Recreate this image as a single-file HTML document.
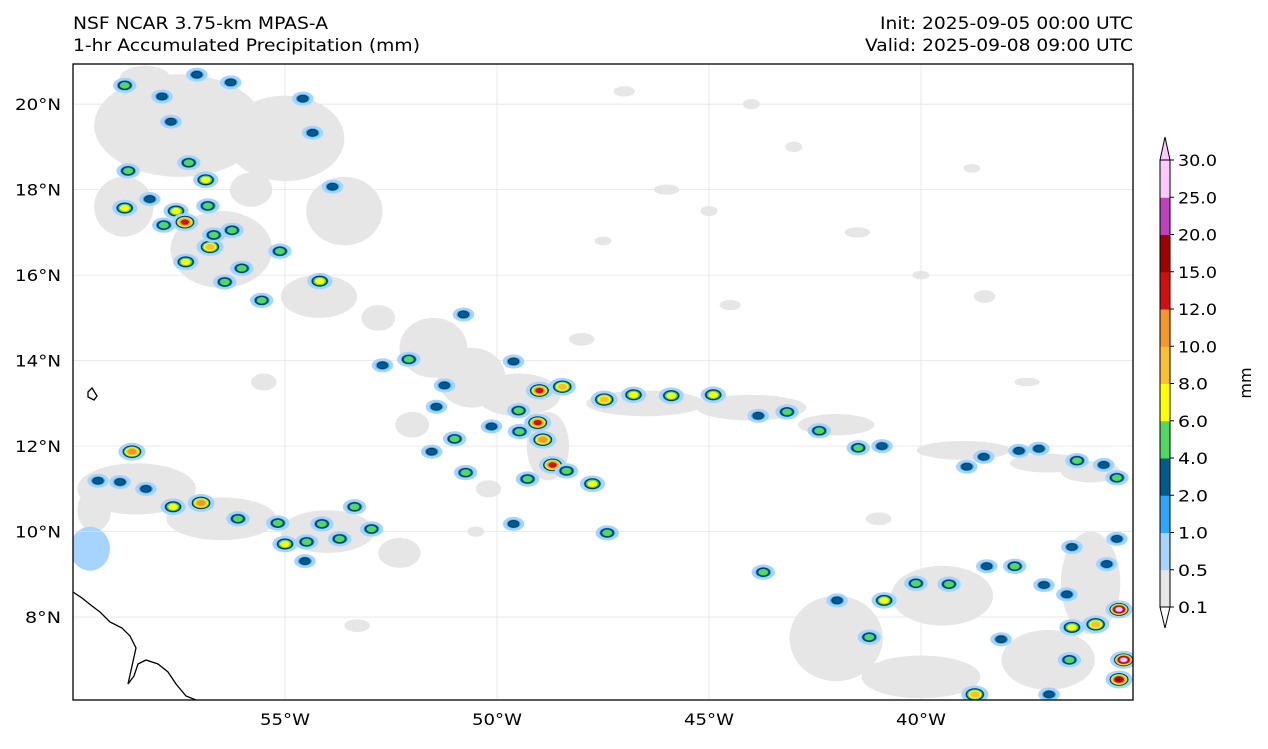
<!DOCTYPE html>
<html><head><meta charset="utf-8"><style>
body{margin:0;background:#fff;font-family:"DejaVu Sans","Liberation Sans",sans-serif;}
svg text{font-family:"DejaVu Sans","Liberation Sans",sans-serif;}
</style></head><body>
<svg id="chart" width="1268" height="745" viewBox="0 0 1268 745" xmlns="http://www.w3.org/2000/svg">
<text x="73" y="29" font-size="16.5" textLength="255" lengthAdjust="spacingAndGlyphs">NSF NCAR 3.75-km MPAS-A</text>
<text x="73" y="51" font-size="16.5" textLength="347" lengthAdjust="spacingAndGlyphs">1-hr Accumulated Precipitation (mm)</text>
<text x="880" y="29" font-size="16.5" textLength="253" lengthAdjust="spacingAndGlyphs">Init: 2025-09-05 00:00 UTC</text>
<text x="865" y="51" font-size="16.5" textLength="268" lengthAdjust="spacingAndGlyphs">Valid: 2025-09-08 09:00 UTC</text>
<defs><clipPath id="mapclip"><rect x="73" y="64" width="1060" height="636"/></clipPath></defs>
<g id="map" clip-path="url(#mapclip)"></g>
<rect x="73" y="64" width="1060" height="636" fill="none" stroke="#000" stroke-width="1.3"/>
<g id="axes"></g>
<g id="cbar"></g>
<text x="1251" y="383" font-size="16" text-anchor="middle" transform="rotate(-90 1251 383)">mm</text>
</svg>
<script>
const lonTicks=[-55,-50,-45,-40];
const latTicks=[8,10,12,14,16,18,20];
const levels=[0.1,0.5,1,2,4,6,8,10,12,15,20,25,30];
const levelColors=["#e6e6e6","#a6d4ff","#2ea6ff","#005a8c","#50d860","#ffff00","#ffbe32","#f59628","#d01010","#a00000","#c040c0","#ffc8ff"];
const cellLon=[-58.78,-57.08,-56.28,-54.58,-57.9,-54.35,-57.69,-58.7,-56.87,-57.27,-58.78,-57.57,-57.86,-57.36,-56.77,-56.68,-57.34,-56.42,-56.02,-54.18,-53.88,-55.55,-55.12,-56.82,-58.19,-56.25,
-52.08,-52.7,-50.79,-51.24,-51.43,-51.0,-50.13,-50.74,-49.61,-51.54,
-49.0,-48.46,-47.47,-46.78,-45.89,-44.9,-43.84,-43.16,-42.4,-41.48,-40.92,-38.92,-38.52,-37.69,-37.22,-36.32,-35.69,-35.38,
-49.49,-49.04,-48.92,-49.47,-48.69,-49.28,-48.36,-47.75,-47.4,-49.61,
-58.61,-59.41,-58.89,-57.64,-56.98,-56.11,-55.17,-55.0,-54.49,-54.13,-53.71,-53.36,-52.96,-54.53,-58.28,
-43.72,-41.98,-40.87,-40.12,-39.34,-38.45,-37.79,-36.44,-36.5,-35.88,-35.62,-35.38,-36.44,-37.1,-38.73,-35.33,-35.22,-35.33,-36.56,-41.22,-38.11,-36.98];
const cellLat=[20.44,20.69,20.51,20.13,20.18,19.33,19.59,18.44,18.23,18.63,17.57,17.5,17.17,17.24,16.66,16.94,16.31,15.84,16.16,15.86,18.07,15.41,16.56,17.62,17.78,17.05,
14.03,13.89,15.08,13.42,12.92,12.17,12.46,11.38,13.98,11.87,
13.3,13.39,13.09,13.2,13.18,13.2,12.71,12.8,12.36,11.96,12.0,11.52,11.75,11.89,11.94,11.66,11.56,11.26,
12.83,12.55,12.15,12.34,11.56,11.23,11.42,11.12,9.97,10.18,
11.87,11.19,11.16,10.58,10.67,10.3,10.2,9.71,9.76,10.18,9.83,10.58,10.06,9.31,11.0,
9.05,8.39,8.39,8.79,8.77,9.19,9.19,7.76,7.0,7.83,9.24,9.83,9.64,8.75,6.19,8.18,7.0,6.54,8.53,7.53,7.48,6.19];
const cellPeak=[5,4,4,3,3,4,3,5,7,5,7,8,6,14,9,5,7,6,5,7,4,5,5,5,4,5,
5,4,3,4,4,5,4,5,3,4,
13,9,10,8,7,7,4,5,5,5,4,4,4,4,4,5,4,5,
6,14,12,6,14,5,5,7,5,3,
12,4,4,7,12,6,5,7,5,5,6,5,5,4,3,
5,4,7,5,5,3,5,8,6,9,4,4,3,4,10,30,28,16,4,5,3,4];
const grayLon=[-57.5,-55,-53.6,-56.5,-54.2,-58.8,-51.5,-50.6,-49.5,-48.8,-46.5,-44,-42,-39,-37,-36,-58.5,-56.5,-54,-52.3,-59.5,-42,-39.5,-37,-36,-40,-46,-47.5,-44.5,-41.5,-38.8,-52,-44,-47,-40,-37.5,-50.5,-53.3,-58.3,-55.8,-52.8,-50.2,-48,-45,-43,-38.5,-41,-55.5];
const grayLat=[19.5,19.2,17.5,16.6,15.5,17.6,14.3,13.6,13.2,12,13,12.9,12.5,11.9,11.6,11.4,11,10.3,10,9.5,10.5,7.5,8.5,7,8.8,6.6,18,16.8,15.3,17,18.5,12.5,20,20.3,16,13.5,10,7.8,20.6,18,15,11,14.5,17.5,19,15.5,10.3,13.5];
const grayRx=[2.0,1.4,0.9,1.2,0.9,0.7,0.8,0.8,1.0,0.5,1.4,1.3,0.9,1.1,0.9,0.7,1.4,1.3,1.1,0.5,0.4,1.1,1.2,1.1,0.7,1.4,0.3,0.2,0.25,0.3,0.2,0.4,0.2,0.25,0.2,0.3,0.2,0.3,0.6,0.5,0.4,0.3,0.3,0.2,0.2,0.25,0.3,0.3];
const grayRy=[1.2,1.0,0.8,0.9,0.5,0.7,0.7,0.7,0.5,0.8,0.3,0.3,0.25,0.22,0.22,0.25,0.6,0.5,0.5,0.35,0.5,1.0,0.7,0.7,1.2,0.5,0.12,0.1,0.12,0.12,0.1,0.3,0.12,0.12,0.1,0.1,0.12,0.15,0.3,0.4,0.3,0.2,0.15,0.12,0.12,0.15,0.15,0.2];

const NS="http://www.w3.org/2000/svg";
const X0=73,X1=1133,Y0=64,Y1=700,LON0=-60,LON1=-35,LAT0=6.06,LAT1=20.94;
function xs(lon){return X0+(lon-LON0)/(LON1-LON0)*(X1-X0);}
function ys(lat){return Y1-(lat-LAT0)/(LAT1-LAT0)*(Y1-Y0);}
const map=document.getElementById('map');
const axes=document.getElementById('axes');
function mk(tag,attrs,parent){const e=document.createElementNS(NS,tag);for(const k in attrs)e.setAttribute(k,attrs[k]);parent.appendChild(e);return e;}
const pxPerDegX=(X1-X0)/(LON1-LON0),pxPerDegY=(Y1-Y0)/(LAT1-LAT0);

for(let i=0;i<grayLon.length;i++){
  const e=mk('ellipse',{cx:xs(grayLon[i]),cy:ys(grayLat[i]),rx:grayRx[i]*pxPerDegX,ry:grayRy[i]*pxPerDegY,fill:'#e6e6e6'},map);
  
  
}
const lb=mk('ellipse',{cx:xs(-59.6),cy:ys(9.6),rx:20,ry:22,fill:'#a6d4ff'},map);



lonTicks.forEach(v=>{const l=mk('line',{x1:xs(v),x2:xs(v),y1:Y0,y2:Y1,stroke:'#e4e4e4','stroke-width':0.8},map);
  });
latTicks.forEach(v=>{const l=mk('line',{x1:X0,x2:X1,y1:ys(v),y2:ys(v),stroke:'#e4e4e4','stroke-width':0.8},map);
  });

for(let i=0;i<cellLon.length;i++){
  const g=mk('g',{},map);
  
  
  const p=cellPeak[i];
  let n=0;for(let k=1;k<levels.length-1;k++)if(levels[k]<p)n++;
  const R=3.2+Math.min(n,6)*0.7;
  const cx=xs(cellLon[i]),cyy=ys(cellLat[i]);
  mk('ellipse',{cx:cx,cy:cyy,rx:(R+3)*1.3,ry:(R+2.5)*0.9,fill:levelColors[1]},g);
  for(let k=2;k<=n;k++){
    const r=R*Math.sqrt(1-(k-2)/(n-0.7));
    mk('ellipse',{cx:cx,cy:cyy,rx:r*1.3,ry:r*0.85,fill:levelColors[k],stroke:k==3?'#00304a':'none','stroke-width':0.8},g);
  }
}

const coast=mk('path',{d:'M73,592 L82,598 L92,606 L100,612 L110,622 L122,628 L130,636 L136,648 L132,666 L128,684 L134,676 L138,664 L146,660 L158,664 L168,672 L176,684 L186,696 L196,700 M88,392 L92,388 L97,396 L94,400 L88,397 Z',fill:'none',stroke:'#000','stroke-width':1.3},map);



lonTicks.forEach(v=>{
  const t=mk('text',{x:xs(v),y:725,'font-size':16,'text-anchor':'middle',textLength:50,lengthAdjust:'spacingAndGlyphs'},axes);
  t.textContent=Math.abs(v)+'°W';
  
  
});
latTicks.forEach(v=>{
  const s=v+'°N';
  const t=mk('text',{x:61,y:ys(v)+6,'font-size':16,'text-anchor':'end',textLength:s.length>3?46:36,lengthAdjust:'spacingAndGlyphs'},axes);
  t.textContent=s;
  
  
});

const cb=document.getElementById('cbar');
const CX=1160,CW=10,CTOP=160,CBOT=607;
function cy(k){return CBOT-k*(CBOT-CTOP)/(levels.length-1);}
for(let k=0;k<levels.length-1;k++){
  const r=mk('rect',{x:CX,y:cy(k+1),width:CW,height:cy(k)-cy(k+1)+0.5,fill:levelColors[k]},cb);
  
  
}
mk('polygon',{points:`${CX},${CTOP} ${CX+CW/2},137 ${CX+CW},${CTOP}`,fill:'#ffc8ff',stroke:'#000','stroke-width':1},cb);
mk('polygon',{points:`${CX},${CBOT} ${CX+CW/2},628 ${CX+CW},${CBOT}`,fill:'#fff',stroke:'#000','stroke-width':1},cb);
mk('rect',{x:CX,y:CTOP,width:CW,height:CBOT-CTOP,fill:'none',stroke:'#000','stroke-width':1},cb);
levels.forEach((v,k)=>{
  mk('line',{x1:CX+CW,x2:CX+CW+4,y1:cy(k),y2:cy(k),stroke:'#000'},cb);
  const s=v.toFixed(1);
  const t=mk('text',{x:CX+CW+8,y:cy(k)+6,'font-size':16,textLength:s.length>3?39:30,lengthAdjust:'spacingAndGlyphs'},cb);
  t.textContent=s;
  
  
});
</script>
</body></html>
